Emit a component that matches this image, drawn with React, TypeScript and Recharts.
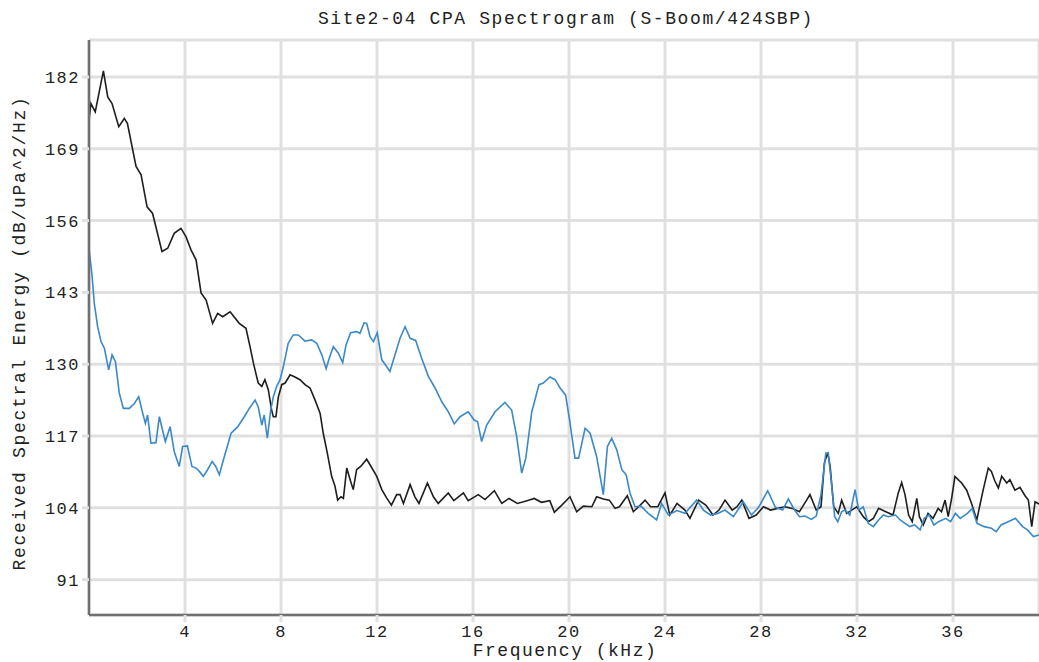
import React from 'react';
import { LineChart, Line, XAxis, YAxis, CartesianGrid } from 'recharts';

const title = 'Site2-04 CPA Spectrogram (S-Boom/424SBP)';
const xLabel = 'Frequency (kHz)';
const yLabel = 'Received Spectral Energy (dB/uPa^2/Hz)';

const xTicks = [4, 8, 12, 16, 20, 24, 28, 32, 36];
const yTicks = [91, 104, 117, 130, 143, 156, 169, 182];

const blackFreq = [
  0.0, 0.08, 0.26, 0.6, 0.78, 0.96, 1.24, 1.47, 1.6, 1.96, 2.17, 2.42, 2.65, 3.04, 3.28, 3.55, 3.83, 4.04, 4.25, 4.46,
  4.67, 4.88, 5.15, 5.36, 5.57, 5.88, 6.26, 6.54, 6.71, 6.85, 7.05, 7.2, 7.33, 7.47, 7.61, 7.68, 7.79, 7.89, 8.03, 8.17,
  8.38, 8.58, 8.79, 9.0, 9.21, 9.42, 9.63, 9.76, 9.93, 10.11, 10.25, 10.36, 10.5, 10.6, 10.74, 10.88, 11.01, 11.15, 11.32, 11.57,
  11.71, 11.99, 12.2, 12.4, 12.6, 12.82, 12.96, 13.1, 13.38, 13.58, 13.75, 14.1, 14.35, 14.55, 14.97, 15.2, 15.6, 15.8, 16.22, 16.5,
  16.89, 17.2, 17.5, 17.85, 18.25, 18.55, 18.85, 19.2, 19.39, 19.7, 20.04, 20.32, 20.6, 20.95, 21.15, 21.43, 21.68, 21.92, 22.1, 22.43,
  22.68, 22.9, 23.17, 23.4, 23.7, 24.0, 24.2, 24.5, 24.83, 25.04, 25.4, 25.7, 26.0, 26.25, 26.5, 26.8, 27.0, 27.2, 27.5, 27.8,
  28.1, 28.4, 28.7, 29.0, 29.3, 29.6, 29.9, 30.04, 30.3, 30.5, 30.64, 30.78, 30.88, 31.03, 31.22, 31.36, 31.57, 31.78, 31.99, 32.26,
  32.47, 32.68, 32.9, 33.2, 33.5, 33.72, 33.86, 34.0, 34.15, 34.3, 34.49, 34.6, 34.76, 34.96, 35.17, 35.38, 35.52, 35.67, 35.8, 35.95,
  36.08, 36.36, 36.57, 36.78, 36.99, 37.13, 37.26, 37.47, 37.6, 37.74, 37.89, 38.03, 38.24, 38.37, 38.58, 38.79, 39.0, 39.14, 39.28, 39.42,
  39.58,
];
const blackDb = [
  174.2, 177.2, 175.7, 183.1, 178.4, 177.2, 173.0, 174.5, 173.6, 165.8, 164.3, 158.5, 157.3, 150.4, 151.0, 153.7, 154.6, 153.1, 150.7, 148.9,
  142.9, 141.6, 137.4, 139.2, 138.6, 139.5, 137.4, 136.5, 133.2, 130.2, 126.6, 126.0, 127.2, 125.4, 121.7, 120.5, 120.5, 124.1, 126.3, 126.6,
  128.1, 127.7, 127.2, 126.3, 125.7, 123.5, 121.1, 117.5, 113.9, 109.7, 107.9, 105.4, 106.0, 105.7, 111.2, 109.1, 107.3, 110.9, 111.5, 112.8,
  111.8, 109.7, 107.3, 105.8, 104.5, 106.4, 106.4, 104.8, 108.2, 106.0, 104.8, 108.5, 106.0, 104.8, 106.7, 105.3, 106.7, 105.3, 106.4, 105.5,
  107.1, 104.8, 105.7, 104.8, 105.3, 105.7, 105.0, 105.3, 103.2, 104.5, 106.0, 103.3, 104.3, 104.2, 106.0, 105.6, 105.4, 103.9, 104.2, 106.2,
  103.3, 104.2, 105.4, 104.2, 104.2, 106.7, 102.7, 104.8, 103.6, 102.1, 105.4, 104.5, 102.7, 103.6, 105.4, 103.6, 104.2, 105.4, 102.1, 102.7,
  104.2, 103.6, 103.9, 104.2, 103.9, 103.3, 105.4, 106.4, 103.6, 104.2, 112.1, 114.0, 111.5, 104.2, 103.0, 105.4, 103.0, 103.6, 104.2, 102.4,
  101.5, 102.1, 103.9, 103.3, 102.7, 106.7, 108.6, 106.4, 102.7, 101.5, 105.7, 102.4, 100.9, 103.0, 102.1, 103.9, 103.3, 105.4, 102.4, 105.9,
  109.7, 108.5, 107.2, 104.7, 101.8, 104.7, 107.3, 111.2, 110.6, 108.9, 107.6, 109.7, 108.5, 109.1, 107.2, 107.7, 106.2, 105.4, 100.6, 105.1,
  104.7,
];

const blueFreq = [
  0.0, 0.13, 0.22, 0.36, 0.5, 0.64, 0.82, 0.96, 1.1, 1.26, 1.43, 1.68, 1.89, 2.07, 2.24, 2.35, 2.44, 2.58, 2.79, 2.93,
  3.18, 3.38, 3.55, 3.76, 3.9, 4.1, 4.29, 4.46, 4.6, 4.76, 4.94, 5.13, 5.28, 5.43, 5.64, 5.92, 6.2, 6.47, 6.68, 6.92,
  7.05, 7.2, 7.3, 7.43, 7.57, 7.68, 7.82, 7.96, 8.1, 8.3, 8.51, 8.72, 9.0, 9.28, 9.49, 9.7, 9.88, 10.01, 10.18, 10.39,
  10.57, 10.71, 10.9, 11.15, 11.29, 11.46, 11.57, 11.71, 11.85, 12.01, 12.2, 12.4, 12.54, 12.75, 12.96, 13.17, 13.38, 13.61, 13.86, 14.14,
  14.42, 14.7, 14.97, 15.22, 15.46, 15.8, 16.05, 16.19, 16.36, 16.57, 16.92, 17.33, 17.61, 17.82, 18.03, 18.2, 18.45, 18.75, 18.93, 19.21,
  19.42, 19.63, 19.86, 20.02, 20.25, 20.4, 20.67, 20.88, 21.15, 21.43, 21.6, 21.78, 21.99, 22.2, 22.38, 22.54, 22.75, 23.0, 23.3, 23.65,
  23.86, 24.14, 24.5, 24.83, 25.32, 25.6, 25.9, 26.2, 26.5, 26.85, 27.26, 27.6, 27.9, 28.28, 28.6, 28.9, 29.14, 29.4, 29.6, 29.83,
  30.1, 30.3, 30.5, 30.7, 30.8, 30.92, 31.07, 31.2, 31.36, 31.5, 31.7, 31.92, 32.07, 32.26, 32.47, 32.68, 32.9, 33.1, 33.3, 33.6,
  33.8, 34.0, 34.2, 34.4, 34.63, 34.8, 35.0, 35.2, 35.4, 35.7, 35.9, 36.1, 36.3, 36.6, 36.8, 37.0, 37.3, 37.6, 37.8, 38.0,
  38.3, 38.6, 38.9, 39.1, 39.35, 39.58,
];
const blueDb = [
  151.0, 145.9, 141.0, 136.8, 134.1, 132.9, 129.0, 131.7, 130.5, 124.8, 122.0, 122.0, 122.9, 124.1, 121.1, 119.3, 120.8, 115.7, 115.8, 120.5,
  116.0, 118.7, 114.2, 111.5, 115.1, 115.2, 111.5, 111.2, 110.6, 109.7, 110.9, 112.4, 111.5, 110.0, 113.3, 117.5, 118.7, 120.5, 122.0, 123.5,
  122.3, 119.0, 120.8, 116.6, 121.7, 124.1, 126.0, 127.2, 129.6, 133.8, 135.3, 135.3, 134.2, 134.4, 133.8, 131.7, 129.2, 131.1, 133.2, 132.0,
  130.3, 133.5, 135.7, 135.9, 135.6, 137.5, 137.4, 135.0, 134.1, 135.7, 130.8, 129.6, 128.7, 131.7, 134.7, 136.8, 134.7, 134.3, 131.1, 127.8,
  125.7, 123.2, 121.4, 119.2, 120.5, 121.4, 119.9, 119.6, 116.0, 119.0, 121.4, 123.1, 121.7, 116.9, 110.3, 113.0, 121.4, 126.3, 126.6, 127.7,
  127.2, 125.7, 124.4, 120.0, 113.0, 113.0, 118.4, 117.5, 113.3, 106.4, 115.1, 116.6, 114.5, 110.9, 110.0, 106.7, 104.2, 104.3, 103.0, 101.8,
  104.8, 102.7, 103.5, 103.0, 105.4, 103.6, 102.7, 103.0, 103.6, 102.4, 105.1, 102.7, 104.1, 107.1, 104.1, 103.6, 105.6, 103.6, 102.4, 102.5,
  101.9, 102.5, 106.4, 113.9, 114.0, 109.1, 102.4, 101.5, 103.3, 103.6, 102.7, 107.3, 103.6, 104.2, 101.2, 100.6, 101.8, 102.7, 102.4, 102.7,
  101.8, 101.2, 100.6, 100.9, 100.0, 102.1, 102.7, 100.9, 101.5, 102.1, 101.5, 103.0, 102.1, 103.0, 103.9, 101.2, 100.6, 100.3, 99.7, 100.9,
  101.5, 102.1, 100.6, 100.0, 98.8, 99.1,
];

const blackData = blackFreq.map((f, i) => ({ f, v: blackDb[i] }));
const blueData = blueFreq.map((f, i) => ({ f, v: blueDb[i] }));

const FONT = "'Liberation Mono', 'DejaVu Sans Mono', monospace";
const TEXT = '#222';

export default function App() {
  return (
    <div
      style={{
        position: 'absolute',
        left: 0,
        top: 0,
        width: 1039,
        height: 662,
        overflow: 'hidden',
        background: '#fff',
        fontFamily: FONT,
        color: TEXT,
      }}
    >
      <LineChart
        width={1039}
        height={662}
        margin={{ top: 40, right: 0, bottom: 0, left: 0 }}
        style={{ position: 'absolute', left: 0, top: 0 }}
      >
        <CartesianGrid
          xAxisId="b"
          stroke="#e0e0e0"
          strokeWidth={3}
          vertical
          horizontal
        />
        <XAxis
          xAxisId="b"
          type="number"
          dataKey="f"
          domain={[0, 39.583]}
          allowDataOverflow
          ticks={xTicks}
          height={47}
          tickSize={7}
          tickMargin={3}
          axisLine={{ stroke: '#707070', strokeWidth: 2.5 }}
          tickLine={{ stroke: '#e0e0e0', strokeWidth: 3 }}
          tick={{ fill: TEXT, fontSize: 17, fontFamily: FONT, letterSpacing: 1.5 }}
        />
        <XAxis
          xAxisId="t"
          orientation="top"
          type="number"
          dataKey="f"
          domain={[0, 39.583]}
          allowDataOverflow
          ticks={[]}
          height={0}
          tick={false}
          tickLine={false}
          axisLine={{ stroke: '#707070', strokeWidth: 2.5 }}
        />
        <YAxis
          type="number"
          domain={[84.6, 188.7]}
          allowDataOverflow
          ticks={yTicks}
          width={89}
          tickSize={7}
          tickMargin={2}
          axisLine={{ stroke: '#707070', strokeWidth: 2.5 }}
          tickLine={{ stroke: '#e0e0e0', strokeWidth: 3 }}
          tick={{ fill: TEXT, fontSize: 17, fontFamily: FONT, letterSpacing: 1.5 }}
        />
        <Line
          xAxisId="b"
          data={blackData}
          dataKey="v"
          type="linear"
          stroke="#1e1e1e"
          strokeWidth={1.6}
          dot={false}
          isAnimationActive={false}
        />
        <Line
          xAxisId="b"
          data={blueData}
          dataKey="v"
          type="linear"
          stroke="#3a89c9"
          strokeWidth={1.6}
          dot={false}
          isAnimationActive={false}
        />
      </LineChart>
      <div
        style={{
          position: 'absolute',
          left: 0,
          width: 1132,
          top: 9,
          textAlign: 'center',
          fontSize: 18,
          letterSpacing: 1.6,
          whiteSpace: 'nowrap',
        }}
      >
        {title}
      </div>
      <div
        style={{
          position: 'absolute',
          left: 0,
          width: 1130,
          top: 641,
          textAlign: 'center',
          fontSize: 18,
          letterSpacing: 1.5,
          whiteSpace: 'nowrap',
        }}
      >
        {xLabel}
      </div>
      <div
        style={{
          position: 'absolute',
          left: 20,
          top: 333,
          transform: 'translate(-50%, -50%) rotate(-90deg)',
          fontSize: 18,
          letterSpacing: 1.7,
          whiteSpace: 'nowrap',
        }}
      >
        {yLabel}
      </div>
    </div>
  );
}
